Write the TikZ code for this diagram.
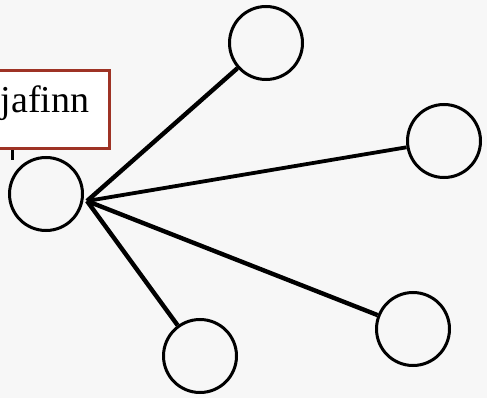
\documentclass[tikz,border=0pt]{standalone}
\usepackage{fontspec}
\setmainfont{Liberation Serif}
\definecolor{bg}{HTML}{F7F7F7}
\definecolor{boxred}{HTML}{9E3325}
\begin{document}
\begin{tikzpicture}[x=1pt,y=-1pt,
  vert/.style={circle,draw=black,line width=3pt,minimum size=73pt,inner sep=0pt},
  edge/.style={line width=4.4pt,black}]
\fill[bg] (0,0) rectangle (487,398);
\useasboundingbox (0,0) rectangle (487,398);
\clip (0,0) rectangle (487,398);
\node[vert] (c) at (46,194) {};
\node[vert] (t) at (266,43) {};
\node[vert] (r) at (444,141) {};
\node[vert] (br) at (413,329) {};
\node[vert] (b) at (200,356) {};
\coordinate (h) at (87,201);
\draw[edge] (h) -- (t);
\draw[edge,line width=3.8pt] (h) -- (r);
\draw[edge] (h) -- (br);
\draw[edge] (h) -- (b);
\draw[line width=3pt] (12,146) -- (12,160);
\node[draw=boxred,line width=2.2pt,fill=white,minimum width=160pt,minimum height=78pt,anchor=north east] (lb) at (110.5,69.5) {};
\node[anchor=base west,inner sep=0pt,font=\fontsize{38}{38}\selectfont] (lt) at (0.5,113) {jafinn};
\end{tikzpicture}
\end{document}
